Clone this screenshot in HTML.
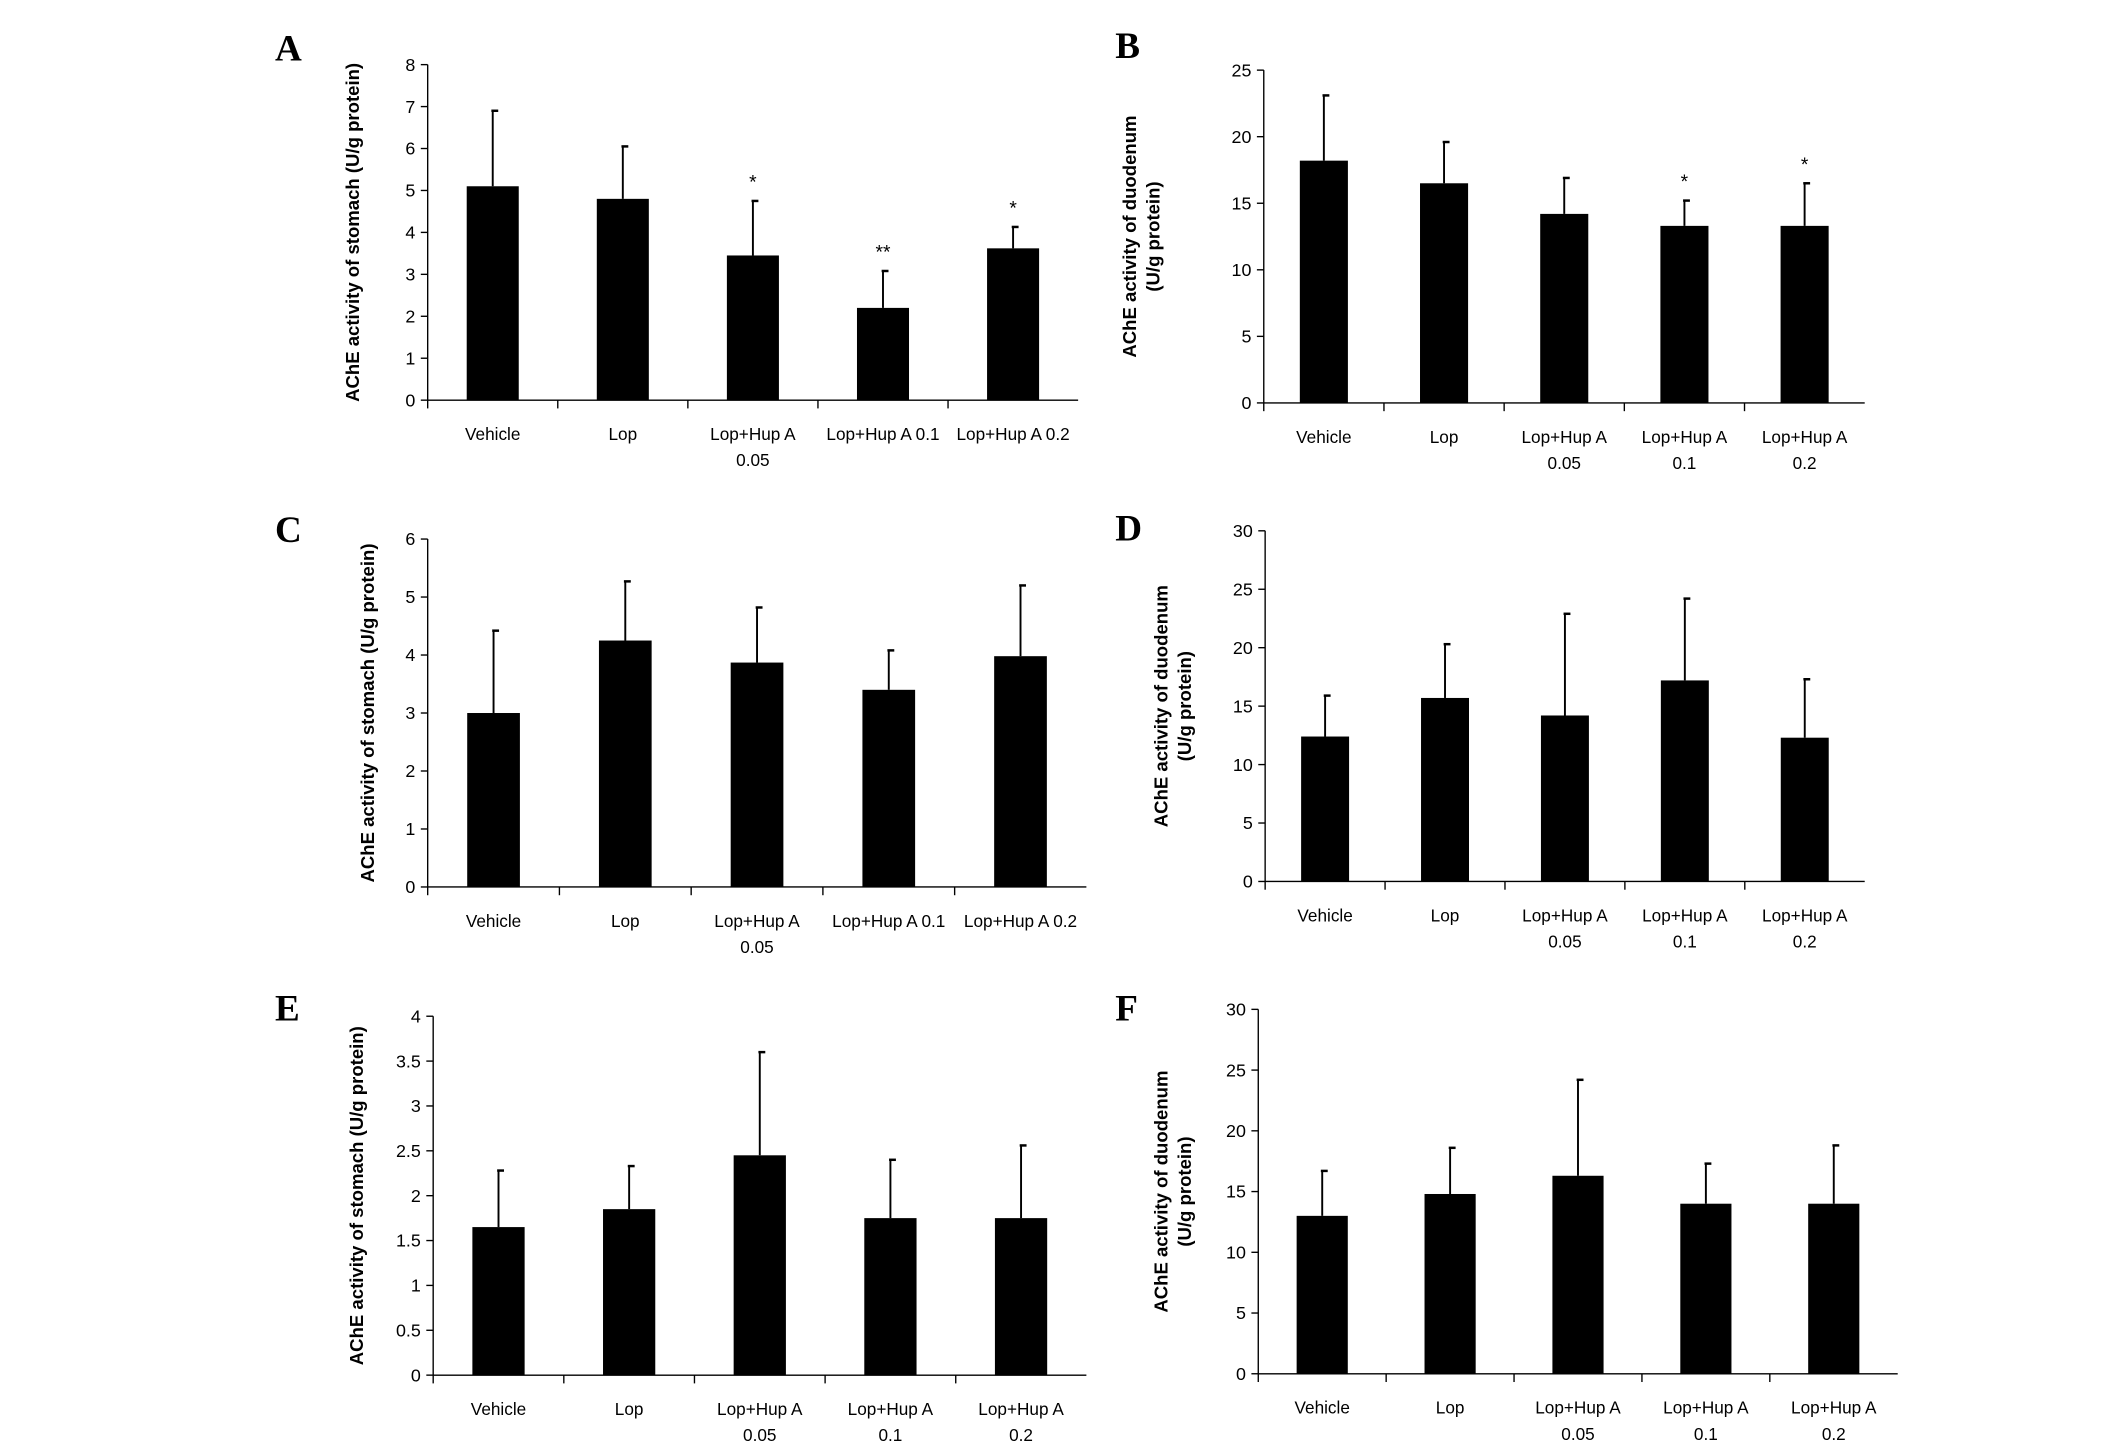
<!DOCTYPE html>
<html><head><meta charset="utf-8"><style>
html,body{margin:0;padding:0;background:#fff;}
svg{display:block;}
</style></head><body>
<svg id="fig" width="2126" height="1456" viewBox="0 0 1546 1058.8" xmlns="http://www.w3.org/2000/svg"></svg>
<script>
const categories = ["Vehicle","Lop","Lop+Hup A 0.05","Lop+Hup A 0.1","Lop+Hup A 0.2"];
const valuesA = [5.1, 4.8, 3.45, 2.2, 3.62];
const errTopA = [6.9, 6.05, 4.75, 3.08, 4.13];
const starsA = ["", "", "*", "**", "*"];
const valuesB = [18.2, 16.5, 14.2, 13.3, 13.3];
const errTopB = [23.1, 19.6, 16.9, 15.2, 16.5];
const starsB = ["", "", "", "*", "*"];
const valuesC = [3.0, 4.25, 3.87, 3.4, 3.98];
const errTopC = [4.42, 5.27, 4.82, 4.08, 5.2];
const valuesD = [12.4, 15.7, 14.2, 17.2, 12.3];
const errTopD = [15.9, 20.3, 22.9, 24.2, 17.3];
const valuesE = [1.65, 1.85, 2.45, 1.75, 1.75];
const errTopE = [2.28, 2.33, 3.6, 2.4, 2.56];
const valuesF = [13.0, 14.8, 16.3, 14.0, 14.0];
const errTopF = [16.7, 18.6, 24.2, 17.3, 18.8];
const ticksStomach8 = [0,1,2,3,4,5,6,7,8];
const ticksDuo25 = [0,5,10,15,20,25];
const ticksStomach6 = [0,1,2,3,4,5,6];
const ticksDuo30 = [0,5,10,15,20,25,30];
const ticksStomach4 = [0,0.5,1,1.5,2,2.5,3,3.5,4];

const NS="http://www.w3.org/2000/svg";
const svg=document.getElementById('fig');
function mk(tag,attrs,parent){const e=document.createElementNS(NS,tag);for(const k in attrs)e.setAttribute(k,attrs[k]);(parent||svg).appendChild(e);return e;}

function panel(o){
  const g=mk('g',{});
  
  
  const ymax=o.ticks[o.ticks.length-1];
  const ys=v=>o.y0-(v/ymax)*(o.y0-o.yTop);
  const n=categories.length, cw=(o.x1-o.x0)/n;
  const xc=i=>o.x0+cw*(i+0.5);
  const L=mk('text',{x:o.lx,y:o.ly,'font-family':'Liberation Serif, serif','font-weight':'bold','font-size':27},g);
  L.textContent=o.letter;
  
  
  const ya=mk('line',{x1:o.x0,y1:o.yTop,x2:o.x0,y2:o.y0,stroke:'#000','stroke-width':1},g);
  
  
  o.ticks.forEach(t=>{
    const y=ys(t);
    mk('line',{x1:o.x0-5,y1:y,x2:o.x0,y2:y,stroke:'#000','stroke-width':1},g);
    const tx=mk('text',{x:o.x0-9,y:y+4.5,'text-anchor':'end','font-family':'Liberation Sans, sans-serif','font-size':13},g);
    tx.textContent=String(t);
    
    
  });
  const xa=mk('line',{x1:o.x0,y1:o.y0,x2:o.x1,y2:o.y0,stroke:'#000','stroke-width':1},g);
  
  
  for(let i=0;i<n;i++){
    mk('line',{x1:o.x0+cw*i,y1:o.y0,x2:o.x0+cw*i,y2:o.y0+6,stroke:'#000','stroke-width':1},g);
  }
  const tcx=o.tx, tcy=(o.yTop+o.y0)/2;
  o.title.forEach((line,k)=>{
    const x=tcx+k*17;
    const t=mk('text',{x:x,y:tcy,'text-anchor':'middle','font-family':'Liberation Sans, sans-serif','font-weight':'bold','font-size':13.5,transform:`rotate(-90 ${x} ${tcy})`},g);
    t.textContent=line;
    
    
  });
  const bw=cw*0.4;
  o.vals.forEach((v,i)=>{
    const cx=xc(i);
    const e=o.err[i];
    const el=mk('line',{x1:cx,y1:ys(e),x2:cx,y2:ys(v),stroke:'#000','stroke-width':1.4},g);
    
    
    mk('line',{x1:cx-1,y1:ys(e),x2:cx+4,y2:ys(e),stroke:'#000','stroke-width':1.8},g);
    const r=mk('rect',{x:cx-bw/2,y:ys(v),width:bw,height:o.y0-ys(v),fill:'#000'},g);
    
    
    if(o.stars&&o.stars[i]){
      const s=mk('text',{x:cx,y:ys(e)-9,'text-anchor':'middle','font-family':'Liberation Sans, sans-serif','font-size':14},g);
      s.textContent=o.stars[i];
      
      
    }
    let lines;
    const c=categories[i];
    if(o.twoLine && c.startsWith('Lop+')) lines=['Lop+Hup A',c.slice(10)];
    else if(c==='Lop+Hup A 0.05') lines=['Lop+Hup A','0.05'];
    else lines=[c];
    lines.forEach((ln,k)=>{
      const t=mk('text',{x:cx,y:o.y0+29+k*19,'text-anchor':'middle','font-family':'Liberation Sans, sans-serif','font-size':12.5},g);
      t.textContent=ln;
      
      
    });
  });
}
const stomT=['AChE activity of stomach (U/g protein)'];
const duoT=['AChE activity of duodenum','(U/g protein)'];
panel({letter:'A',lx:200,ly:44,x0:311,x1:784,y0:291,yTop:47,ticks:ticksStomach8,vals:valuesA,err:errTopA,stars:starsA,title:stomT,tx:261,twoLine:false});
panel({letter:'B',lx:811,ly:42,x0:919,x1:1356,y0:293,yTop:51,ticks:ticksDuo25,vals:valuesB,err:errTopB,stars:starsB,title:duoT,tx:826,twoLine:true});
panel({letter:'C',lx:200,ly:394,x0:311,x1:790,y0:645,yTop:392,ticks:ticksStomach6,vals:valuesC,err:errTopC,title:stomT,tx:272,twoLine:false});
panel({letter:'D',lx:811,ly:393,x0:920,x1:1356,y0:641,yTop:386,ticks:ticksDuo30,vals:valuesD,err:errTopD,title:duoT,tx:849,twoLine:true});
panel({letter:'E',lx:200,ly:742,x0:315,x1:790,y0:1000,yTop:739,ticks:ticksStomach4,vals:valuesE,err:errTopE,title:stomT,tx:264,twoLine:true});
panel({letter:'F',lx:811,ly:742,x0:915,x1:1380,y0:999,yTop:734,ticks:ticksDuo30,vals:valuesF,err:errTopF,title:duoT,tx:849,twoLine:true});
</script>
</body></html>
